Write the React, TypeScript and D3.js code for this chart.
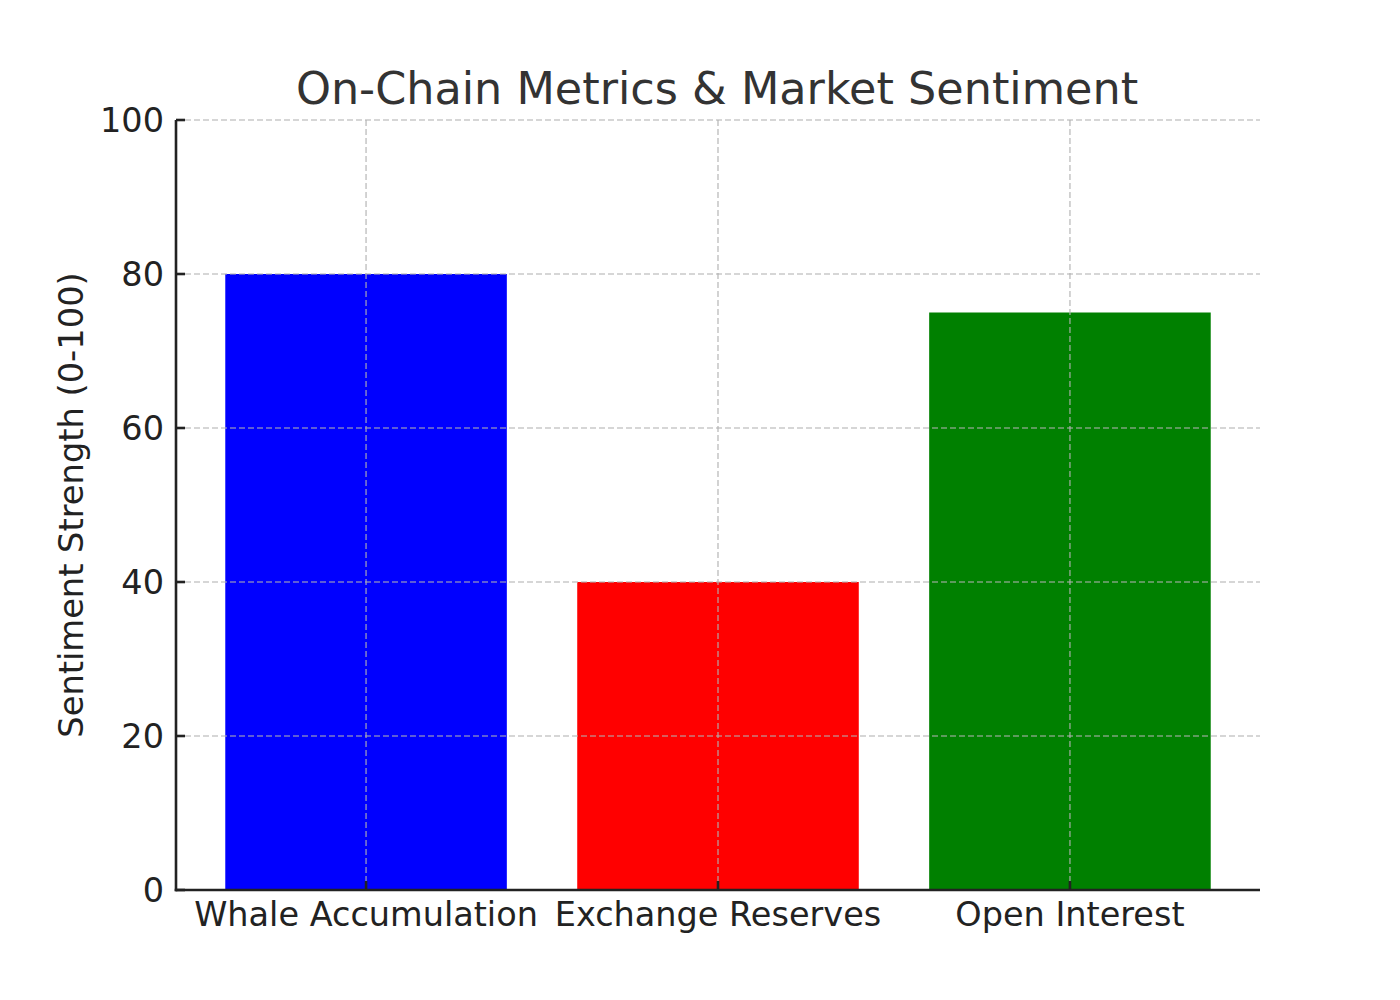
import React from "react";
import * as d3 from "d3";

const categories = ["Whale Accumulation", "Exchange Reserves", "Open Interest"];
const values = [80, 40, 75];
const colors = ["#0000ff", "#ff0000", "#008000"];
const yTicks = [0, 20, 40, 60, 80, 100];

const W = 1400, H = 1000;
const left = 176, right = 1260, top = 120, bottom = 890;
const font = "'DejaVu Sans', sans-serif";

export default function App() {
  const x = d3.scaleLinear().domain([-0.54, 2.54]).range([left, right]);
  const y = d3.scaleLinear().domain([0, 100]).range([bottom, top]);
  const bw = x(0.4) - x(0);
  const gridStyle = { stroke: "#b0b0b0", strokeOpacity: 0.7, strokeWidth: 1.6, strokeDasharray: "6,3" };
  return (
    <svg width={W} height={H} style={{ display: "block", margin: -8 }}>
      <rect width={W} height={H} fill="#fff" />
      <text x={(left + right) / 2 - 1} y={104} textAnchor="middle" fontFamily={font} fontSize={44.5} fill="#333">
        On-Chain Metrics &amp; Market Sentiment
      </text>
      {categories.map((c, i) => (
        <rect key={c} x={x(i) - bw} width={bw * 2} y={y(values[i])} height={bottom - y(values[i])} fill={colors[i]} />
      ))}
      {yTicks.map((t) => (
        <line key={"gy" + t} x1={left} x2={right} y1={y(t)} y2={y(t)} {...gridStyle} />
      ))}
      {categories.map((c, i) => (
        <line key={"gx" + c} x1={x(i)} x2={x(i)} y1={top} y2={bottom} {...gridStyle} />
      ))}
      {yTicks.map((t) => (
        <g key={"ty" + t}>
          <line x1={left} x2={left + 9} y1={y(t)} y2={y(t)} stroke="#222" strokeWidth={2.6} />
          <text x={left - 12} y={y(t)} dy="0.36em" textAnchor="end" fontFamily={font} fontSize={33.5} fill="#222">
            {t}
          </text>
        </g>
      ))}
      {categories.map((c, i) => (
        <g key={"tx" + c}>
          <line x1={x(i)} x2={x(i)} y1={bottom} y2={bottom - 9} stroke="#222" strokeWidth={2.6} />
          <text x={x(i)} y={bottom + 36} textAnchor="middle" fontFamily={font} fontSize={33.5} fill="#222">
            {c}
          </text>
        </g>
      ))}
      <line x1={left} x2={left} y1={top} y2={bottom + 1.3} stroke="#222" strokeWidth={2.6} />
      <line x1={left - 1.3} x2={right} y1={bottom} y2={bottom} stroke="#222" strokeWidth={2.6} />
      <text
        transform={`translate(83,${(top + bottom) / 2}) rotate(-90)`}
        textAnchor="middle"
        fontFamily={font}
        fontSize={33.7}
        fill="#222"
      >
        Sentiment Strength (0-100)
      </text>
    </svg>
  );
}
